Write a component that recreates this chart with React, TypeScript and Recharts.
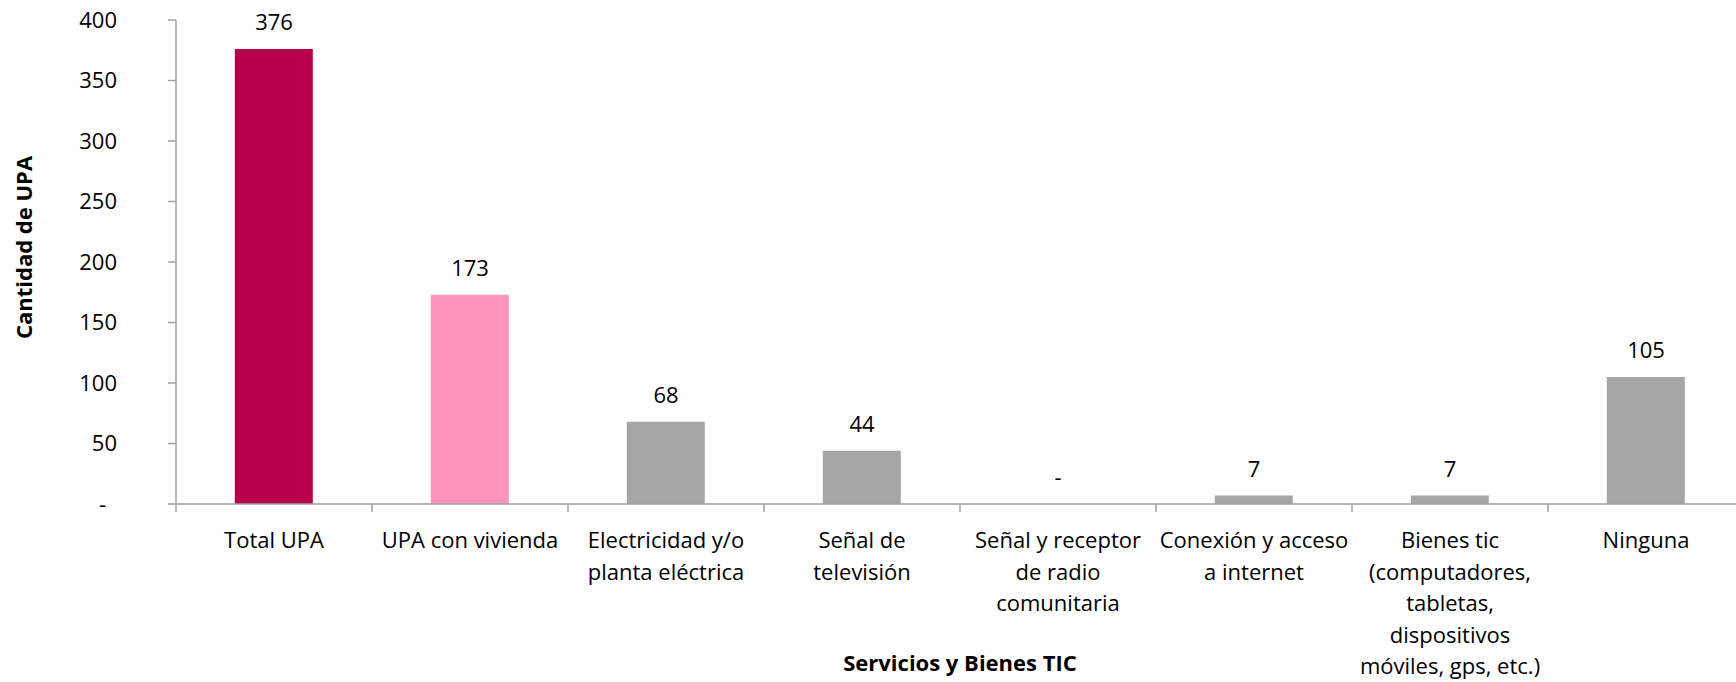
import React from "react";
import { ComposedChart, Bar, Line, XAxis, YAxis, Cell, LabelList } from "recharts";

const categories: string[][] = [
  ["Total UPA"],
  ["UPA con vivienda"],
  ["Electricidad y/o", "planta eléctrica"],
  ["Señal de", "televisión"],
  ["Señal y receptor", "de radio", "comunitaria"],
  ["Conexión y acceso", "a internet"],
  ["Bienes tic", "(computadores,", "tabletas,", "dispositivos", "móviles, gps, etc.)"],
  ["Ninguna"],
];
const values: number[] = [376, 173, 68, 44, 0, 7, 7, 105];
const barColors: string[] = ["#B8004A", "#FF94C0", "#A6A6A6", "#A6A6A6", "#A6A6A6", "#A6A6A6", "#A6A6A6", "#A6A6A6"];
const yTicks: number[] = [0, 50, 100, 150, 200, 250, 300, 350, 400];
const xTitle = "Servicios y Bienes TIC";
const yTitle = "Cantidad de UPA";

const data = categories.map((c, i) => ({ name: c.join("|"), value: values[i] }));

const FONT = "'Open Sans', sans-serif";
const FS = 22;
const AXIS = "#A0A0A0";

const XTick = (props: any) => {
  const { x, y, payload, index, visibleTicksCount } = props;
  const half = payload && payload.offset ? payload.offset : 98;
  const lines = String(payload.value).split("|");
  const axisY = y - 8;
  return (
    <g>
      <line x1={x - half} y1={axisY} x2={x - half} y2={axisY + 8} stroke={AXIS} strokeWidth={1.5} />
      {index === visibleTicksCount - 1 && (
        <line x1={x + half} y1={axisY} x2={x + half} y2={axisY + 8} stroke={AXIS} strokeWidth={1.5} />
      )}
      <text x={x} y={axisY + 44} textAnchor="middle" fontFamily={FONT} fontSize={FS} fill="#000">
        {lines.map((l, i) => (
          <tspan key={i} x={x} dy={i === 0 ? 0 : 31.5}>
            {l}
          </tspan>
        ))}
      </text>
    </g>
  );
};

const YTick = (props: any) => {
  const { x, y, payload } = props;
  const v = payload.value;
  return (
    <text x={v === 0 ? x - 11 : x} y={y} dy={7.5} textAnchor="end" fontFamily={FONT} fontSize={FS} fill="#000">
      {v === 0 ? "-" : v}
    </text>
  );
};

const YTitle = (props: any) => {
  const vb = props && props.viewBox ? props.viewBox : { x: 0, y: 12, width: 168, height: 484 };
  const cx = vb.x + 23.5;
  const cy = vb.y + vb.height / 2 - 14.5;
  return (
    <text
      x={cx}
      y={cy}
      transform={`rotate(-90, ${cx}, ${cy})`}
      textAnchor="middle"
      fontFamily={FONT}
      fontSize={FS}
      fontWeight="bold"
      fill="#000"
    >
      {yTitle}
    </text>
  );
};

const ValueLabel = (props: any) => {
  const { x, y, value } = props;
  if (x == null || y == null) return null;
  return (
    <text x={x} y={y - 19} textAnchor="middle" fontFamily={FONT} fontSize={FS} fill="#000">
      {value === 0 ? "-" : String(value)}
    </text>
  );
};

export default function App() {
  return (
    <div
      style={{
        position: "absolute",
        left: 8,
        top: 8,
        width: 1728,
        height: 674,
        overflow: "hidden",
        background: "#fff",
      }}
    >
      <ComposedChart
        width={1736}
        height={674}
        data={data}
        margin={{ top: 12, right: 0, bottom: 0, left: 0 }}
        barCategoryGap="30%"
      >
        <XAxis
          dataKey="name"
          interval={0}
          tick={<XTick />}
          tickLine={false}
          tickSize={6}
          tickMargin={2}
          axisLine={{ stroke: AXIS, strokeWidth: 1.5 }}
          height={178}
          label={{
            value: xTitle,
            position: "insideBottom",
            offset: 11,
            fontFamily: FONT,
            fontSize: FS,
            fontWeight: "bold",
            fill: "#000",
          }}
        />
        <YAxis
          type="number"
          domain={[0, 400]}
          ticks={yTicks}
          interval={0}
          width={168}
          tick={<YTick />}
          tickSize={8}
          tickMargin={51}
          tickLine={{ stroke: AXIS, strokeWidth: 1.5 }}
          axisLine={{ stroke: AXIS, strokeWidth: 1.5 }}
          label={{ content: <YTitle /> }}
        />
        <Bar dataKey="value" isAnimationActive={false}>
          {data.map((d, i) => (
            <Cell key={i} fill={barColors[i]} />
          ))}
        </Bar>
        <Line
          dataKey="value"
          stroke="none"
          dot={false}
          activeDot={false}
          legendType="none"
          isAnimationActive={false}
        >
          <LabelList dataKey="value" content={<ValueLabel />} />
        </Line>
      </ComposedChart>
    </div>
  );
}
